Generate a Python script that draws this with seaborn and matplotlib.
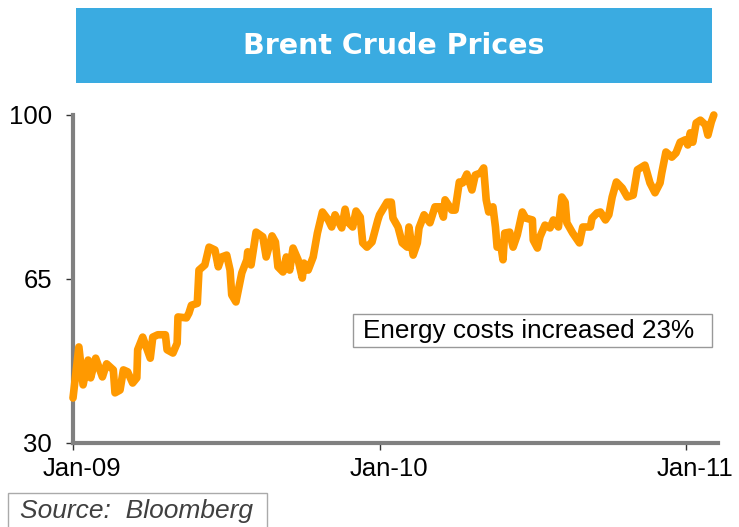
import pandas as pd
import matplotlib.pyplot as plt
import matplotlib.transforms as mtransforms
from matplotlib.patches import Rectangle
import seaborn as sns

# --- Data ---
dates = [
    "2009-01-01", "2009-01-08", "2009-01-13", "2009-01-19", "2009-01-22", "2009-01-28",
    "2009-02-05", "2009-02-10", "2009-02-18", "2009-02-20", "2009-02-26", "2009-03-02",
    "2009-03-07", "2009-03-13", "2009-03-18", "2009-03-19", "2009-03-25", "2009-04-03",
    "2009-04-06", "2009-04-12", "2009-04-21", "2009-04-23", "2009-04-30", "2009-05-05",
    "2009-05-06", "2009-05-16", "2009-05-19", "2009-05-22", "2009-05-29", "2009-05-31",
    "2009-06-07", "2009-06-12", "2009-06-19", "2009-06-23", "2009-06-27", "2009-07-03",
    "2009-07-07", "2009-07-09", "2009-07-14", "2009-07-21", "2009-07-27", "2009-07-28",
    "2009-08-01", "2009-08-07", "2009-08-15", "2009-08-19", "2009-08-26", "2009-08-30",
    "2009-09-02", "2009-09-08", "2009-09-12", "2009-09-16", "2009-09-20", "2009-09-26",
    "2009-10-01", "2009-10-03", "2009-10-08", "2009-10-14", "2009-10-19", "2009-10-25",
    "2009-11-01", "2009-11-05", "2009-11-09", "2009-11-17", "2009-11-21", "2009-11-24",
    "2009-11-30", "2009-12-04", "2009-12-09", "2009-12-12", "2009-12-17", "2009-12-23",
    "2009-12-30", "2010-01-01", "2010-01-10", "2010-01-15", "2010-01-17", "2010-01-23",
    "2010-01-28", "2010-02-03", "2010-02-05", "2010-02-10", "2010-02-15", "2010-02-17",
    "2010-02-23", "2010-03-02", "2010-03-08", "2010-03-14", "2010-03-18", "2010-03-20",
    "2010-03-28", "2010-04-01", "2010-04-06", "2010-04-10", "2010-04-15", "2010-04-21",
    "2010-04-25", "2010-05-01", "2010-05-05", "2010-05-08", "2010-05-11", "2010-05-16",
    "2010-05-19", "2010-05-21", "2010-05-25", "2010-05-28", "2010-05-30", "2010-06-05",
    "2010-06-09", "2010-06-14", "2010-06-20", "2010-06-24", "2010-07-02", "2010-07-03",
    "2010-07-08", "2010-07-11", "2010-07-17", "2010-07-23", "2010-07-27", "2010-08-02",
    "2010-08-06", "2010-08-10", "2010-08-12", "2010-08-19", "2010-08-27", "2010-08-31",
    "2010-09-09", "2010-09-11", "2010-09-17", "2010-09-21", "2010-09-27", "2010-10-01",
    "2010-10-05", "2010-10-10", "2010-10-17", "2010-10-23", "2010-10-30", "2010-11-04",
    "2010-11-13", "2010-11-19", "2010-11-25", "2010-12-01", "2010-12-03", "2010-12-08",
    "2010-12-15", "2010-12-20", "2010-12-25", "2010-12-31", "2011-01-03", "2011-01-06",
    "2011-01-09", "2011-01-13", "2011-01-18", "2011-01-24", "2011-01-27", "2011-01-31",
    "2011-02-03",
]
prices = [
    39.6, 50.5, 42.4, 47.7, 43.9, 48.1,
    44.1, 46.9, 45.6, 40.7, 41.3, 45.6,
    45.2, 42.8, 43.9, 49.9, 52.6, 48.1,
    52.6, 53.1, 53.1, 49.9, 49.2, 51.3,
    56.9, 56.7, 57.7, 59.4, 59.8, 66.9,
    68.0, 71.8, 71.2, 67.6, 69.7, 70.1,
    66.9, 61.6, 60.1, 66.3, 69.1, 70.8,
    68.0, 75.0, 74.0, 69.7, 74.2, 72.9,
    67.6, 66.5, 69.7, 66.9, 71.6, 69.1,
    65.2, 68.4, 66.9, 69.7, 74.8, 79.3,
    77.6, 76.1, 78.7, 75.9, 79.9, 77.2,
    76.1, 79.5, 78.2, 72.7, 71.8, 72.9,
    77.6, 78.7, 81.4, 81.4, 78.0, 76.1,
    72.7, 71.8, 76.1, 70.1, 72.7, 75.9,
    78.7, 77.0, 80.4, 80.4, 78.2, 81.9,
    79.7, 79.7, 85.7, 85.5, 87.4, 84.0,
    87.2, 87.6, 88.7, 81.9, 79.3, 80.4,
    76.1, 71.8, 72.7, 69.1, 74.8, 75.0,
    71.8, 74.4, 79.3, 78.0, 77.6, 73.3,
    71.6, 74.0, 76.5, 75.9, 77.6, 76.1,
    82.5, 81.4, 77.0, 74.8, 72.7, 76.1,
    76.1, 78.0, 79.1, 79.3, 77.6, 78.7,
    82.5, 85.7, 84.4, 82.5, 82.9, 88.3,
    89.3, 85.5, 83.4, 85.5, 87.6, 92.1,
    91.0, 91.9, 94.2, 94.7, 93.6, 96.2,
    94.2, 98.3, 98.9, 97.9, 95.7, 98.5,
    100.0,
]
x_ticks = ["2009-01-01", "2010-01-01", "2011-01-01"]
x_tick_labels = ["Jan-09", "Jan-10", "Jan-11"]
y_ticks = [30, 65, 100]

df = pd.DataFrame({"date": pd.to_datetime(dates), "price": prices})

sns.set_theme(style="white")
plt.rcParams['font.family'] = ['DejaVu Sans']
LABEL_FONT = ['Liberation Sans', 'DejaVu Sans']

fig = plt.figure(figsize=(7.39, 5.27), dpi=100)
W, H = 739, 527

# title banner
fig.patches.append(Rectangle((76 / W, 1 - 83 / H), 636 / W, 75 / H,
                             transform=fig.transFigure, facecolor="#3AABE1",
                             edgecolor="none", zorder=0))
fig.text(394 / W, 1 - 46 / H, "Brent Crude Prices", ha="center", va="center",
         color="white", fontsize=20.5, fontweight="bold")

ax = fig.add_axes([73 / W, 1 - 443 / H, (718 - 73) / W, (443 - 115) / H])
sns.lineplot(data=df, x="date", y="price", ax=ax, color="#FF9900",
             linewidth=5.5, solid_capstyle="round", solid_joinstyle="round")
for line in ax.lines:
    line.set_clip_on(False)
    line.set_zorder(2)

ax.set_xlim(pd.Timestamp("2009-01-01"), pd.Timestamp("2011-02-08"))
ax.set_ylim(30, 100)
ax.set_xticks(pd.to_datetime(x_ticks))
ax.set_xticklabels(x_tick_labels, family=LABEL_FONT)
ax.set_yticks(y_ticks)
ax.set_yticklabels([str(v) for v in y_ticks], family=LABEL_FONT)
ax.set_xlabel("")
ax.set_ylabel("")
ax.set_facecolor("none")

for side in ["top", "right"]:
    ax.spines[side].set_visible(False)
for side in ["left", "bottom"]:
    ax.spines[side].set_color("#808080")
    ax.spines[side].set_linewidth(3)
    ax.spines[side].set_zorder(1)

ax.tick_params(axis="both", direction="out", length=5, width=1, color="#333333",
               labelsize=18.5, labelcolor="black", left=True, bottom=True)
ax.tick_params(axis="y", pad=10)
ax.tick_params(axis="x", pad=5)

# Excel puts the date labels a little right of their ticks
shift = mtransforms.ScaledTranslation(9 / 100, 0, fig.dpi_scale_trans)
for lbl in ax.get_xticklabels():
    lbl.set_transform(lbl.get_transform() + shift)

# annotation box
fig.patches.append(Rectangle((353 / W, 1 - 347 / H), 359 / W, 33 / H,
                             transform=fig.transFigure, facecolor="white",
                             edgecolor="#999999", linewidth=1, zorder=3))
fig.text(363 / W, 1 - 331 / H, "Energy costs increased 23%", ha="left", va="center",
         fontsize=18.8, color="black", family=LABEL_FONT, zorder=4)

# source box
fig.patches.append(Rectangle((8 / W, -0.01), 259 / W, 34 / H + 0.01,
                             transform=fig.transFigure, facecolor="white",
                             edgecolor="#AAAAAA", linewidth=1, zorder=3))
fig.text(20 / W, 1 - 511 / H, "Source:  Bloomberg", ha="left", va="center",
         fontsize=19, style="italic", color="#404040", family=LABEL_FONT, zorder=4)

fig.savefig("out.png", dpi=100)
